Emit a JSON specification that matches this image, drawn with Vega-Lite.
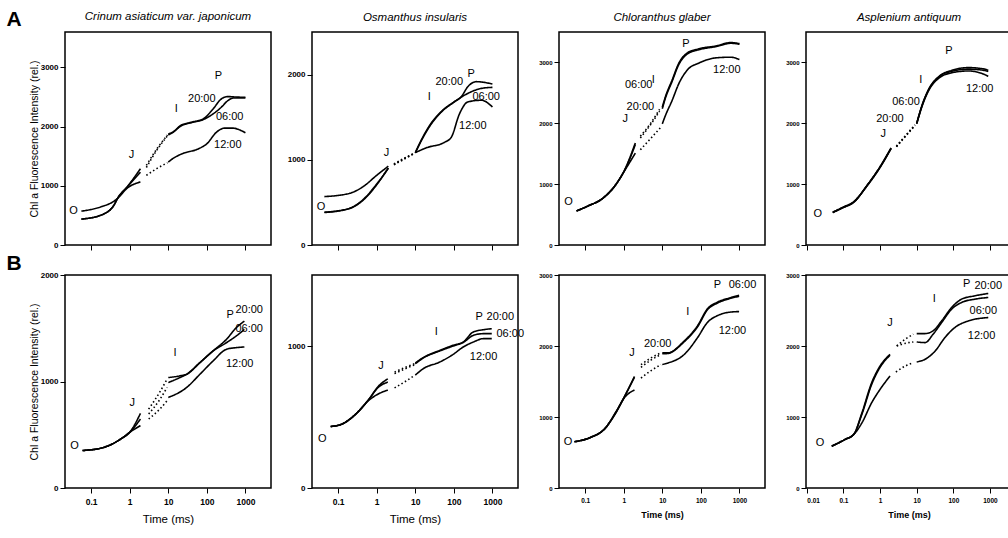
{
"$schema": "https://vega.github.io/schema/vega-lite/v6.json",
"padding": {"left": 5, "top": 8, "right": 0, "bottom": 0},
"background": "white",
"columns": 4,
"bounds": "flush",
"spacing": {"row": 30, "column": 41},
"config": {
 "font": "Liberation Sans",
 "view": {"stroke": "black", "strokeWidth": 1.5},
 "axis": {"grid": false, "domain": false, "tickColor": "black", "tickSize": 5, "tickWidth": 1, "labelColor": "black", "labelFontSize": 8, "labelFontWeight": "bold", "labelPadding": 2, "titleColor": "black", "titleFontWeight": "normal", "titleFontSize": 10.5},
 "title": {"fontSize": 11.5, "fontStyle": "italic", "fontWeight": "normal", "color": "black", "offset": 9},
 "text": {"color": "black", "fill": "black"}
},
"datasets": {
"letters": [{"p":"A1","label":"A","t":0.001,"v":3800},{"p":"B1","label":"B","t":0.001,"v":2100}],
"labels": [
{"p":"A1","label":"O","t":0.035,"v":572},{"p":"A1","label":"J","t":1.12,"v":1515},{"p":"A1","label":"I","t":16,"v":2300},{"p":"A1","label":"P","t":200,"v":2850},{"p":"A1","label":"20:00","t":74,"v":2468},{"p":"A1","label":"06:00","t":390,"v":2160},{"p":"A1","label":"12:00","t":350,"v":1694},
{"p":"A2","label":"O","t":0.036,"v":449},{"p":"A2","label":"J","t":1.8,"v":1084},{"p":"A2","label":"I","t":23,"v":1739},{"p":"A2","label":"P","t":280,"v":2009},{"p":"A2","label":"20:00","t":76,"v":1917},{"p":"A2","label":"06:00","t":690,"v":1739},{"p":"A2","label":"12:00","t":310,"v":1401},
{"p":"A3","label":"O","t":0.037,"v":699},{"p":"A3","label":"J","t":1.1,"v":2068},{"p":"A3","label":"20:00","t":2.7,"v":2264},{"p":"A3","label":"06:00","t":2.45,"v":2627},{"p":"A3","label":"I","t":5.8,"v":2711},{"p":"A3","label":"P","t":41,"v":3298},{"p":"A3","label":"12:00","t":470,"v":2868},
{"p":"A4","label":"O","t":0.02,"v":504},{"p":"A4","label":"J","t":1.23,"v":1820},{"p":"A4","label":"20:00","t":1.86,"v":2072},{"p":"A4","label":"06:00","t":5.1,"v":2352},{"p":"A4","label":"I","t":13,"v":2716},{"p":"A4","label":"P","t":76,"v":3192},{"p":"A4","label":"12:00","t":525,"v":2565},
{"p":"B1","label":"O","t":0.037,"v":399},{"p":"B1","label":"J","t":1.17,"v":794},{"p":"B1","label":"I","t":15,"v":1271},{"p":"B1","label":"P","t":400,"v":1629},{"p":"B1","label":"20:00","t":1250,"v":1676},{"p":"B1","label":"06:00","t":1250,"v":1489},{"p":"B1","label":"12:00","t":710,"v":1162},
{"p":"B2","label":"O","t":0.039,"v":346},{"p":"B2","label":"J","t":1.3,"v":856},{"p":"B2","label":"I","t":35,"v":1099},{"p":"B2","label":"P","t":450,"v":1205},{"p":"B2","label":"20:00","t":1600,"v":1205},{"p":"B2","label":"06:00","t":2900,"v":1087},{"p":"B2","label":"12:00","t":590,"v":922},
{"p":"B3","label":"O","t":0.036,"v":643},{"p":"B3","label":"J","t":1.64,"v":1904},{"p":"B3","label":"20:00","t":7.6,"v":2023},{"p":"B3","label":"I","t":46,"v":2475},{"p":"B3","label":"P","t":270,"v":2856},{"p":"B3","label":"06:00","t":1200,"v":2856},{"p":"B3","label":"12:00","t":660,"v":2213},
{"p":"B4","label":"O","t":0.023,"v":636},{"p":"B4","label":"J","t":1.87,"v":2330},{"p":"B4","label":"I","t":30,"v":2669},{"p":"B4","label":"P","t":230,"v":2872},{"p":"B4","label":"20:00","t":900,"v":2848},{"p":"B4","label":"06:00","t":660,"v":2495},{"p":"B4","label":"12:00","t":590,"v":2142}
],
"curves": [
{"p":"A1","s":"20:00","g":"a","t":0.056,"v":438},{"p":"A1","s":"20:00","g":"a","t":0.18,"v":505},{"p":"A1","s":"20:00","g":"a","t":0.39,"v":673},{"p":"A1","s":"20:00","g":"a","t":0.48,"v":785},{"p":"A1","s":"20:00","g":"a","t":0.86,"v":982},{"p":"A1","s":"20:00","g":"a","t":1.9,"v":1290},
{"p":"A1","s":"20:00","g":"b","t":2.7,"v":1346},{"p":"A1","s":"20:00","g":"b","t":5,"v":1620},{"p":"A1","s":"20:00","g":"b","t":9.5,"v":1860},
{"p":"A1","s":"20:00","g":"c","t":10,"v":1879},{"p":"A1","s":"20:00","g":"c","t":13,"v":1907},{"p":"A1","s":"20:00","g":"c","t":21,"v":2020},{"p":"A1","s":"20:00","g":"c","t":41,"v":2076},{"p":"A1","s":"20:00","g":"c","t":81,"v":2132},{"p":"A1","s":"20:00","g":"c","t":145,"v":2300},{"p":"A1","s":"20:00","g":"c","t":236,"v":2468},{"p":"A1","s":"20:00","g":"c","t":350,"v":2508},{"p":"A1","s":"20:00","g":"c","t":600,"v":2500},{"p":"A1","s":"20:00","g":"c","t":1000,"v":2496},
{"p":"A1","s":"06:00","g":"a","t":0.056,"v":438},{"p":"A1","s":"06:00","g":"a","t":0.18,"v":505},{"p":"A1","s":"06:00","g":"a","t":0.39,"v":673},{"p":"A1","s":"06:00","g":"a","t":0.48,"v":785},{"p":"A1","s":"06:00","g":"a","t":0.86,"v":982},{"p":"A1","s":"06:00","g":"a","t":1.9,"v":1230},
{"p":"A1","s":"06:00","g":"b","t":2.7,"v":1310},{"p":"A1","s":"06:00","g":"b","t":5,"v":1600},{"p":"A1","s":"06:00","g":"b","t":9.5,"v":1845},
{"p":"A1","s":"06:00","g":"c","t":10,"v":1860},{"p":"A1","s":"06:00","g":"c","t":13,"v":1900},{"p":"A1","s":"06:00","g":"c","t":21,"v":2010},{"p":"A1","s":"06:00","g":"c","t":41,"v":2070},{"p":"A1","s":"06:00","g":"c","t":81,"v":2120},{"p":"A1","s":"06:00","g":"c","t":145,"v":2216},{"p":"A1","s":"06:00","g":"c","t":236,"v":2328},{"p":"A1","s":"06:00","g":"c","t":350,"v":2440},{"p":"A1","s":"06:00","g":"c","t":500,"v":2485},{"p":"A1","s":"06:00","g":"c","t":1000,"v":2485},
{"p":"A1","s":"12:00","g":"a","t":0.056,"v":572},{"p":"A1","s":"12:00","g":"a","t":0.18,"v":645},{"p":"A1","s":"12:00","g":"a","t":0.39,"v":740},{"p":"A1","s":"12:00","g":"a","t":0.48,"v":785},{"p":"A1","s":"12:00","g":"a","t":0.86,"v":960},{"p":"A1","s":"12:00","g":"a","t":1.9,"v":1066},
{"p":"A1","s":"12:00","g":"b","t":2.7,"v":1178},{"p":"A1","s":"12:00","g":"b","t":5,"v":1290},{"p":"A1","s":"12:00","g":"b","t":9.5,"v":1390},
{"p":"A1","s":"12:00","g":"c","t":10,"v":1402},{"p":"A1","s":"12:00","g":"c","t":13,"v":1459},{"p":"A1","s":"12:00","g":"c","t":23,"v":1543},{"p":"A1","s":"12:00","g":"c","t":61,"v":1627},{"p":"A1","s":"12:00","g":"c","t":100,"v":1711},{"p":"A1","s":"12:00","g":"c","t":178,"v":1907},{"p":"A1","s":"12:00","g":"c","t":288,"v":1975},{"p":"A1","s":"12:00","g":"c","t":466,"v":1975},{"p":"A1","s":"12:00","g":"c","t":1000,"v":1896},

{"p":"A2","s":"20:00","g":"a","t":0.044,"v":381},{"p":"A2","s":"20:00","g":"a","t":0.2,"v":429},{"p":"A2","s":"20:00","g":"a","t":0.45,"v":528},{"p":"A2","s":"20:00","g":"a","t":1,"v":707},{"p":"A2","s":"20:00","g":"a","t":2,"v":905},
{"p":"A2","s":"20:00","g":"b","t":2.8,"v":945},{"p":"A2","s":"20:00","g":"b","t":5,"v":1010},{"p":"A2","s":"20:00","g":"b","t":9.5,"v":1080},
{"p":"A2","s":"20:00","g":"c","t":10,"v":1084},{"p":"A2","s":"20:00","g":"c","t":14,"v":1223},{"p":"A2","s":"20:00","g":"c","t":25,"v":1421},{"p":"A2","s":"20:00","g":"c","t":51,"v":1580},{"p":"A2","s":"20:00","g":"c","t":100,"v":1679},{"p":"A2","s":"20:00","g":"c","t":155,"v":1739},{"p":"A2","s":"20:00","g":"c","t":230,"v":1858},{"p":"A2","s":"20:00","g":"c","t":380,"v":1917},{"p":"A2","s":"20:00","g":"c","t":1000,"v":1890},
{"p":"A2","s":"06:00","g":"a","t":0.044,"v":385},{"p":"A2","s":"06:00","g":"a","t":0.2,"v":432},{"p":"A2","s":"06:00","g":"a","t":0.45,"v":535},{"p":"A2","s":"06:00","g":"a","t":1,"v":715},{"p":"A2","s":"06:00","g":"a","t":2,"v":900},
{"p":"A2","s":"06:00","g":"b","t":2.8,"v":940},{"p":"A2","s":"06:00","g":"b","t":5,"v":1005},{"p":"A2","s":"06:00","g":"b","t":9.5,"v":1075},
{"p":"A2","s":"06:00","g":"c","t":10,"v":1080},{"p":"A2","s":"06:00","g":"c","t":14,"v":1215},{"p":"A2","s":"06:00","g":"c","t":25,"v":1410},{"p":"A2","s":"06:00","g":"c","t":51,"v":1575},{"p":"A2","s":"06:00","g":"c","t":100,"v":1675},{"p":"A2","s":"06:00","g":"c","t":155,"v":1735},{"p":"A2","s":"06:00","g":"c","t":230,"v":1779},{"p":"A2","s":"06:00","g":"c","t":515,"v":1838},{"p":"A2","s":"06:00","g":"c","t":1000,"v":1850},
{"p":"A2","s":"12:00","g":"a","t":0.044,"v":568},{"p":"A2","s":"12:00","g":"a","t":0.2,"v":607},{"p":"A2","s":"12:00","g":"a","t":0.45,"v":687},{"p":"A2","s":"12:00","g":"a","t":1,"v":818},{"p":"A2","s":"12:00","g":"a","t":2,"v":925},
{"p":"A2","s":"12:00","g":"b","t":2.8,"v":950},{"p":"A2","s":"12:00","g":"b","t":5,"v":1015},{"p":"A2","s":"12:00","g":"b","t":9.5,"v":1075},
{"p":"A2","s":"12:00","g":"c","t":10,"v":1084},{"p":"A2","s":"12:00","g":"c","t":20,"v":1143},{"p":"A2","s":"12:00","g":"c","t":56,"v":1203},{"p":"A2","s":"12:00","g":"c","t":85,"v":1262},{"p":"A2","s":"12:00","g":"c","t":140,"v":1540},{"p":"A2","s":"12:00","g":"c","t":230,"v":1679},{"p":"A2","s":"12:00","g":"c","t":515,"v":1699},{"p":"A2","s":"12:00","g":"c","t":1000,"v":1620},

{"p":"A3","s":"20:00","g":"a","t":0.06,"v":559},{"p":"A3","s":"20:00","g":"a","t":0.12,"v":643},{"p":"A3","s":"20:00","g":"a","t":0.27,"v":755},{"p":"A3","s":"20:00","g":"a","t":0.6,"v":978},{"p":"A3","s":"20:00","g":"a","t":1.1,"v":1258},{"p":"A3","s":"20:00","g":"a","t":2,"v":1677},
{"p":"A3","s":"20:00","g":"b","t":2.7,"v":1789},{"p":"A3","s":"20:00","g":"b","t":5,"v":2000},{"p":"A3","s":"20:00","g":"b","t":8.5,"v":2230},
{"p":"A3","s":"20:00","g":"c","t":10,"v":2264},{"p":"A3","s":"20:00","g":"c","t":12,"v":2432},{"p":"A3","s":"20:00","g":"c","t":18,"v":2711},{"p":"A3","s":"20:00","g":"c","t":27,"v":2991},{"p":"A3","s":"20:00","g":"c","t":45,"v":3158},{"p":"A3","s":"20:00","g":"c","t":90,"v":3225},{"p":"A3","s":"20:00","g":"c","t":245,"v":3270},{"p":"A3","s":"20:00","g":"c","t":600,"v":3326},{"p":"A3","s":"20:00","g":"c","t":1000,"v":3309},
{"p":"A3","s":"06:00","g":"a","t":0.06,"v":559},{"p":"A3","s":"06:00","g":"a","t":0.12,"v":643},{"p":"A3","s":"06:00","g":"a","t":0.27,"v":755},{"p":"A3","s":"06:00","g":"a","t":0.6,"v":978},{"p":"A3","s":"06:00","g":"a","t":1.1,"v":1250},{"p":"A3","s":"06:00","g":"a","t":2,"v":1650},
{"p":"A3","s":"06:00","g":"b","t":2.7,"v":1760},{"p":"A3","s":"06:00","g":"b","t":5,"v":1980},{"p":"A3","s":"06:00","g":"b","t":8.5,"v":2200},
{"p":"A3","s":"06:00","g":"c","t":10,"v":2240},{"p":"A3","s":"06:00","g":"c","t":12,"v":2410},{"p":"A3","s":"06:00","g":"c","t":18,"v":2690},{"p":"A3","s":"06:00","g":"c","t":27,"v":2970},{"p":"A3","s":"06:00","g":"c","t":45,"v":3140},{"p":"A3","s":"06:00","g":"c","t":90,"v":3210},{"p":"A3","s":"06:00","g":"c","t":245,"v":3260},{"p":"A3","s":"06:00","g":"c","t":600,"v":3315},{"p":"A3","s":"06:00","g":"c","t":1000,"v":3300},
{"p":"A3","s":"12:00","g":"a","t":0.06,"v":559},{"p":"A3","s":"12:00","g":"a","t":0.12,"v":643},{"p":"A3","s":"12:00","g":"a","t":0.27,"v":755},{"p":"A3","s":"12:00","g":"a","t":0.6,"v":978},{"p":"A3","s":"12:00","g":"a","t":1.1,"v":1240},{"p":"A3","s":"12:00","g":"a","t":2,"v":1509},
{"p":"A3","s":"12:00","g":"b","t":2.7,"v":1565},{"p":"A3","s":"12:00","g":"b","t":5,"v":1750},{"p":"A3","s":"12:00","g":"b","t":9,"v":1929},
{"p":"A3","s":"12:00","g":"c","t":10,"v":1990},{"p":"A3","s":"12:00","g":"c","t":12,"v":2124},{"p":"A3","s":"12:00","g":"c","t":18,"v":2376},{"p":"A3","s":"12:00","g":"c","t":27,"v":2655},{"p":"A3","s":"12:00","g":"c","t":45,"v":2879},{"p":"A3","s":"12:00","g":"c","t":90,"v":2991},{"p":"A3","s":"12:00","g":"c","t":245,"v":3075},{"p":"A3","s":"12:00","g":"c","t":600,"v":3086},{"p":"A3","s":"12:00","g":"c","t":1000,"v":3047},

{"p":"A4","s":"20:00","g":"a","t":0.051,"v":532},{"p":"A4","s":"20:00","g":"a","t":0.1,"v":616},{"p":"A4","s":"20:00","g":"a","t":0.19,"v":700},{"p":"A4","s":"20:00","g":"a","t":0.44,"v":980},{"p":"A4","s":"20:00","g":"a","t":1,"v":1288},{"p":"A4","s":"20:00","g":"a","t":2,"v":1596},
{"p":"A4","s":"20:00","g":"b","t":2.8,"v":1624},{"p":"A4","s":"20:00","g":"b","t":5,"v":1800},{"p":"A4","s":"20:00","g":"b","t":9,"v":1975},
{"p":"A4","s":"20:00","g":"c","t":10,"v":2000},{"p":"A4","s":"20:00","g":"c","t":14,"v":2296},{"p":"A4","s":"20:00","g":"c","t":22,"v":2576},{"p":"A4","s":"20:00","g":"c","t":41,"v":2772},{"p":"A4","s":"20:00","g":"c","t":91,"v":2870},{"p":"A4","s":"20:00","g":"c","t":260,"v":2915},{"p":"A4","s":"20:00","g":"c","t":720,"v":2890},{"p":"A4","s":"20:00","g":"c","t":900,"v":2870},
{"p":"A4","s":"06:00","g":"a","t":0.051,"v":535},{"p":"A4","s":"06:00","g":"a","t":0.1,"v":620},{"p":"A4","s":"06:00","g":"a","t":0.19,"v":705},{"p":"A4","s":"06:00","g":"a","t":0.44,"v":975},{"p":"A4","s":"06:00","g":"a","t":1,"v":1280},{"p":"A4","s":"06:00","g":"a","t":2,"v":1590},
{"p":"A4","s":"06:00","g":"b","t":2.8,"v":1620},{"p":"A4","s":"06:00","g":"b","t":5,"v":1795},{"p":"A4","s":"06:00","g":"b","t":9,"v":1970},
{"p":"A4","s":"06:00","g":"c","t":10,"v":1995},{"p":"A4","s":"06:00","g":"c","t":14,"v":2290},{"p":"A4","s":"06:00","g":"c","t":22,"v":2570},{"p":"A4","s":"06:00","g":"c","t":41,"v":2765},{"p":"A4","s":"06:00","g":"c","t":91,"v":2856},{"p":"A4","s":"06:00","g":"c","t":260,"v":2890},{"p":"A4","s":"06:00","g":"c","t":720,"v":2867},{"p":"A4","s":"06:00","g":"c","t":900,"v":2850},
{"p":"A4","s":"12:00","g":"a","t":0.051,"v":540},{"p":"A4","s":"12:00","g":"a","t":0.1,"v":625},{"p":"A4","s":"12:00","g":"a","t":0.19,"v":710},{"p":"A4","s":"12:00","g":"a","t":0.44,"v":970},{"p":"A4","s":"12:00","g":"a","t":1,"v":1275},{"p":"A4","s":"12:00","g":"a","t":2,"v":1585},
{"p":"A4","s":"12:00","g":"b","t":2.8,"v":1615},{"p":"A4","s":"12:00","g":"b","t":5,"v":1790},{"p":"A4","s":"12:00","g":"b","t":9,"v":1965},
{"p":"A4","s":"12:00","g":"c","t":10,"v":1990},{"p":"A4","s":"12:00","g":"c","t":14,"v":2280},{"p":"A4","s":"12:00","g":"c","t":22,"v":2555},{"p":"A4","s":"12:00","g":"c","t":41,"v":2745},{"p":"A4","s":"12:00","g":"c","t":91,"v":2830},{"p":"A4","s":"12:00","g":"c","t":260,"v":2860},{"p":"A4","s":"12:00","g":"c","t":720,"v":2800},{"p":"A4","s":"12:00","g":"c","t":900,"v":2772},

{"p":"B1","s":"20:00","g":"a","t":0.06,"v":352},{"p":"B1","s":"20:00","g":"a","t":0.22,"v":383},{"p":"B1","s":"20:00","g":"a","t":0.59,"v":461},{"p":"B1","s":"20:00","g":"a","t":1,"v":523},{"p":"B1","s":"20:00","g":"a","t":1.9,"v":701},
{"p":"B1","s":"20:00","g":"b","t":3.1,"v":741},{"p":"B1","s":"20:00","g":"b","t":6,"v":900},{"p":"B1","s":"20:00","g":"b","t":9.3,"v":1022},
{"p":"B1","s":"20:00","g":"c","t":10,"v":1037},{"p":"B1","s":"20:00","g":"c","t":20,"v":1053},{"p":"B1","s":"20:00","g":"c","t":30,"v":1068},{"p":"B1","s":"20:00","g":"c","t":66,"v":1177},{"p":"B1","s":"20:00","g":"c","t":145,"v":1287},{"p":"B1","s":"20:00","g":"c","t":320,"v":1395},{"p":"B1","s":"20:00","g":"c","t":575,"v":1504},{"p":"B1","s":"20:00","g":"c","t":940,"v":1567},
{"p":"B1","s":"06:00","g":"a","t":0.06,"v":352},{"p":"B1","s":"06:00","g":"a","t":0.22,"v":383},{"p":"B1","s":"06:00","g":"a","t":0.59,"v":461},{"p":"B1","s":"06:00","g":"a","t":1,"v":523},{"p":"B1","s":"06:00","g":"a","t":1.9,"v":648},
{"p":"B1","s":"06:00","g":"b","t":3.1,"v":695},{"p":"B1","s":"06:00","g":"b","t":6,"v":830},{"p":"B1","s":"06:00","g":"b","t":9.3,"v":944},
{"p":"B1","s":"06:00","g":"c","t":10,"v":990},{"p":"B1","s":"06:00","g":"c","t":20,"v":1037},{"p":"B1","s":"06:00","g":"c","t":30,"v":1068},{"p":"B1","s":"06:00","g":"c","t":66,"v":1177},{"p":"B1","s":"06:00","g":"c","t":145,"v":1287},{"p":"B1","s":"06:00","g":"c","t":320,"v":1364},{"p":"B1","s":"06:00","g":"c","t":575,"v":1427},{"p":"B1","s":"06:00","g":"c","t":940,"v":1489},
{"p":"B1","s":"12:00","g":"a","t":0.06,"v":352},{"p":"B1","s":"12:00","g":"a","t":0.22,"v":383},{"p":"B1","s":"12:00","g":"a","t":0.59,"v":461},{"p":"B1","s":"12:00","g":"a","t":1,"v":523},{"p":"B1","s":"12:00","g":"a","t":1.9,"v":586},
{"p":"B1","s":"12:00","g":"b","t":3.1,"v":648},{"p":"B1","s":"12:00","g":"b","t":6,"v":740},{"p":"B1","s":"12:00","g":"b","t":9.3,"v":819},
{"p":"B1","s":"12:00","g":"c","t":10,"v":850},{"p":"B1","s":"12:00","g":"c","t":30,"v":944},{"p":"B1","s":"12:00","g":"c","t":66,"v":1068},{"p":"B1","s":"12:00","g":"c","t":145,"v":1193},{"p":"B1","s":"12:00","g":"c","t":320,"v":1302},{"p":"B1","s":"12:00","g":"c","t":575,"v":1318},{"p":"B1","s":"12:00","g":"c","t":940,"v":1324},

{"p":"B2","s":"20:00","g":"a","t":0.064,"v":433},{"p":"B2","s":"20:00","g":"a","t":0.13,"v":452},{"p":"B2","s":"20:00","g":"a","t":0.29,"v":522},{"p":"B2","s":"20:00","g":"a","t":0.64,"v":628},{"p":"B2","s":"20:00","g":"a","t":1.06,"v":711},{"p":"B2","s":"20:00","g":"a","t":1.94,"v":769},
{"p":"B2","s":"20:00","g":"b","t":2.9,"v":816},{"p":"B2","s":"20:00","g":"b","t":5.5,"v":850},{"p":"B2","s":"20:00","g":"b","t":9.6,"v":875},
{"p":"B2","s":"20:00","g":"c","t":10,"v":880},{"p":"B2","s":"20:00","g":"c","t":16,"v":918},{"p":"B2","s":"20:00","g":"c","t":43,"v":969},{"p":"B2","s":"20:00","g":"c","t":96,"v":1005},{"p":"B2","s":"20:00","g":"c","t":175,"v":1028},{"p":"B2","s":"20:00","g":"c","t":320,"v":1099},{"p":"B2","s":"20:00","g":"c","t":590,"v":1115},{"p":"B2","s":"20:00","g":"c","t":960,"v":1122},
{"p":"B2","s":"06:00","g":"a","t":0.064,"v":433},{"p":"B2","s":"06:00","g":"a","t":0.13,"v":452},{"p":"B2","s":"06:00","g":"a","t":0.29,"v":522},{"p":"B2","s":"06:00","g":"a","t":0.64,"v":628},{"p":"B2","s":"06:00","g":"a","t":1.06,"v":705},{"p":"B2","s":"06:00","g":"a","t":1.94,"v":746},
{"p":"B2","s":"06:00","g":"b","t":2.9,"v":805},{"p":"B2","s":"06:00","g":"b","t":5.5,"v":840},{"p":"B2","s":"06:00","g":"b","t":9.6,"v":868},
{"p":"B2","s":"06:00","g":"c","t":10,"v":875},{"p":"B2","s":"06:00","g":"c","t":16,"v":915},{"p":"B2","s":"06:00","g":"c","t":43,"v":965},{"p":"B2","s":"06:00","g":"c","t":96,"v":1000},{"p":"B2","s":"06:00","g":"c","t":175,"v":1025},{"p":"B2","s":"06:00","g":"c","t":320,"v":1075},{"p":"B2","s":"06:00","g":"c","t":590,"v":1087},{"p":"B2","s":"06:00","g":"c","t":960,"v":1087},
{"p":"B2","s":"12:00","g":"a","t":0.064,"v":433},{"p":"B2","s":"12:00","g":"a","t":0.13,"v":452},{"p":"B2","s":"12:00","g":"a","t":0.29,"v":522},{"p":"B2","s":"12:00","g":"a","t":0.64,"v":620},{"p":"B2","s":"12:00","g":"a","t":1.06,"v":660},{"p":"B2","s":"12:00","g":"a","t":1.94,"v":690},
{"p":"B2","s":"12:00","g":"b","t":2.9,"v":705},{"p":"B2","s":"12:00","g":"b","t":5.5,"v":750},{"p":"B2","s":"12:00","g":"b","t":9.6,"v":793},
{"p":"B2","s":"12:00","g":"c","t":10,"v":795},{"p":"B2","s":"12:00","g":"c","t":16,"v":840},{"p":"B2","s":"12:00","g":"c","t":43,"v":887},{"p":"B2","s":"12:00","g":"c","t":96,"v":941},{"p":"B2","s":"12:00","g":"c","t":175,"v":993},{"p":"B2","s":"12:00","g":"c","t":320,"v":1028},{"p":"B2","s":"12:00","g":"c","t":590,"v":1052},{"p":"B2","s":"12:00","g":"c","t":960,"v":1052},

{"p":"B3","s":"20:00","g":"a","t":0.053,"v":652},{"p":"B3","s":"20:00","g":"a","t":0.14,"v":714},{"p":"B3","s":"20:00","g":"a","t":0.32,"v":833},{"p":"B3","s":"20:00","g":"a","t":0.63,"v":1071},{"p":"B3","s":"20:00","g":"a","t":1.04,"v":1285},{"p":"B3","s":"20:00","g":"a","t":1.9,"v":1571},
{"p":"B3","s":"20:00","g":"b","t":2.8,"v":1737},{"p":"B3","s":"20:00","g":"b","t":5,"v":1830},{"p":"B3","s":"20:00","g":"b","t":9.2,"v":1904},
{"p":"B3","s":"20:00","g":"c","t":10,"v":1904},{"p":"B3","s":"20:00","g":"c","t":14,"v":1904},{"p":"B3","s":"20:00","g":"c","t":37,"v":2071},{"p":"B3","s":"20:00","g":"c","t":82,"v":2285},{"p":"B3","s":"20:00","g":"c","t":148,"v":2523},{"p":"B3","s":"20:00","g":"c","t":270,"v":2618},{"p":"B3","s":"20:00","g":"c","t":540,"v":2675},{"p":"B3","s":"20:00","g":"c","t":980,"v":2713},
{"p":"B3","s":"06:00","g":"a","t":0.053,"v":652},{"p":"B3","s":"06:00","g":"a","t":0.14,"v":714},{"p":"B3","s":"06:00","g":"a","t":0.32,"v":833},{"p":"B3","s":"06:00","g":"a","t":0.63,"v":1071},{"p":"B3","s":"06:00","g":"a","t":1.04,"v":1285},{"p":"B3","s":"06:00","g":"a","t":1.9,"v":1560},
{"p":"B3","s":"06:00","g":"b","t":2.8,"v":1700},{"p":"B3","s":"06:00","g":"b","t":5,"v":1800},{"p":"B3","s":"06:00","g":"b","t":9.2,"v":1880},
{"p":"B3","s":"06:00","g":"c","t":10,"v":1890},{"p":"B3","s":"06:00","g":"c","t":14,"v":1895},{"p":"B3","s":"06:00","g":"c","t":37,"v":2060},{"p":"B3","s":"06:00","g":"c","t":82,"v":2270},{"p":"B3","s":"06:00","g":"c","t":148,"v":2510},{"p":"B3","s":"06:00","g":"c","t":270,"v":2605},{"p":"B3","s":"06:00","g":"c","t":540,"v":2665},{"p":"B3","s":"06:00","g":"c","t":980,"v":2700},
{"p":"B3","s":"12:00","g":"a","t":0.053,"v":652},{"p":"B3","s":"12:00","g":"a","t":0.14,"v":714},{"p":"B3","s":"12:00","g":"a","t":0.32,"v":833},{"p":"B3","s":"12:00","g":"a","t":0.63,"v":1060},{"p":"B3","s":"12:00","g":"a","t":1.04,"v":1270},{"p":"B3","s":"12:00","g":"a","t":1.9,"v":1380},
{"p":"B3","s":"12:00","g":"b","t":2.8,"v":1547},{"p":"B3","s":"12:00","g":"b","t":5,"v":1650},{"p":"B3","s":"12:00","g":"b","t":9.2,"v":1737},
{"p":"B3","s":"12:00","g":"c","t":10,"v":1740},{"p":"B3","s":"12:00","g":"c","t":14,"v":1761},{"p":"B3","s":"12:00","g":"c","t":37,"v":1880},{"p":"B3","s":"12:00","g":"c","t":82,"v":2118},{"p":"B3","s":"12:00","g":"c","t":148,"v":2332},{"p":"B3","s":"12:00","g":"c","t":270,"v":2428},{"p":"B3","s":"12:00","g":"c","t":540,"v":2475},{"p":"B3","s":"12:00","g":"c","t":980,"v":2485},

{"p":"B4","s":"20:00","g":"a","t":0.048,"v":589},{"p":"B4","s":"20:00","g":"a","t":0.11,"v":683},{"p":"B4","s":"20:00","g":"a","t":0.19,"v":753},{"p":"B4","s":"20:00","g":"a","t":0.32,"v":1059},{"p":"B4","s":"20:00","g":"a","t":0.59,"v":1483},{"p":"B4","s":"20:00","g":"a","t":1,"v":1718},{"p":"B4","s":"20:00","g":"a","t":1.87,"v":1883},
{"p":"B4","s":"20:00","g":"b","t":2.85,"v":2001},{"p":"B4","s":"20:00","g":"b","t":5,"v":2100},{"p":"B4","s":"20:00","g":"b","t":8.1,"v":2166},
{"p":"B4","s":"20:00","g":"c","t":10,"v":2175},{"p":"B4","s":"20:00","g":"c","t":17,"v":2175},{"p":"B4","s":"20:00","g":"c","t":28,"v":2213},{"p":"B4","s":"20:00","g":"c","t":48,"v":2354},{"p":"B4","s":"20:00","g":"c","t":90,"v":2542},{"p":"B4","s":"20:00","g":"c","t":168,"v":2660},{"p":"B4","s":"20:00","g":"c","t":390,"v":2707},{"p":"B4","s":"20:00","g":"c","t":900,"v":2740},
{"p":"B4","s":"06:00","g":"a","t":0.048,"v":589},{"p":"B4","s":"06:00","g":"a","t":0.11,"v":683},{"p":"B4","s":"06:00","g":"a","t":0.19,"v":753},{"p":"B4","s":"06:00","g":"a","t":0.32,"v":1040},{"p":"B4","s":"06:00","g":"a","t":0.59,"v":1460},{"p":"B4","s":"06:00","g":"a","t":1,"v":1700},{"p":"B4","s":"06:00","g":"a","t":1.87,"v":1870},
{"p":"B4","s":"06:00","g":"b","t":2.85,"v":2001},{"p":"B4","s":"06:00","g":"b","t":5,"v":2040},{"p":"B4","s":"06:00","g":"b","t":8.1,"v":2057},
{"p":"B4","s":"06:00","g":"c","t":10,"v":2057},{"p":"B4","s":"06:00","g":"c","t":17,"v":2048},{"p":"B4","s":"06:00","g":"c","t":28,"v":2166},{"p":"B4","s":"06:00","g":"c","t":48,"v":2330},{"p":"B4","s":"06:00","g":"c","t":90,"v":2519},{"p":"B4","s":"06:00","g":"c","t":168,"v":2613},{"p":"B4","s":"06:00","g":"c","t":390,"v":2660},{"p":"B4","s":"06:00","g":"c","t":900,"v":2683},
{"p":"B4","s":"12:00","g":"a","t":0.048,"v":589},{"p":"B4","s":"12:00","g":"a","t":0.11,"v":683},{"p":"B4","s":"12:00","g":"a","t":0.19,"v":753},{"p":"B4","s":"12:00","g":"a","t":0.32,"v":918},{"p":"B4","s":"12:00","g":"a","t":0.59,"v":1201},{"p":"B4","s":"12:00","g":"a","t":1,"v":1389},{"p":"B4","s":"12:00","g":"a","t":1.87,"v":1577},
{"p":"B4","s":"12:00","g":"b","t":2.7,"v":1634},{"p":"B4","s":"12:00","g":"b","t":5,"v":1720},{"p":"B4","s":"12:00","g":"b","t":8.1,"v":1765},
{"p":"B4","s":"12:00","g":"c","t":10,"v":1775},{"p":"B4","s":"12:00","g":"c","t":17,"v":1813},{"p":"B4","s":"12:00","g":"c","t":32,"v":1930},{"p":"B4","s":"12:00","g":"c","t":59,"v":2119},{"p":"B4","s":"12:00","g":"c","t":110,"v":2260},{"p":"B4","s":"12:00","g":"c","t":260,"v":2354},{"p":"B4","s":"12:00","g":"c","t":900,"v":2401}
]
},
"concat": [
{"width": 206, "height": 213, "title": {"text": "Crinum asiaticum var. japonicum", "offset": -13},
 "encoding": {"x": {"field": "t", "type": "quantitative", "scale": {"type": "log", "domain": [0.021, 4600], "nice": false}, "axis": {"values": [0.1, 1, 10, 100, 1000], "labels": false, "title": null}},
  "y": {"field": "v", "type": "quantitative", "scale": {"domain": [0, 3600], "nice": false}, "axis": {"values": [0, 1000, 2000, 3000], "format": "d", "title": "Chl a Fluorescence Intensity  (rel.)", "titlePadding": 1}}},
 "layer": [
  {"data": {"name": "curves"}, "transform": [{"filter": "datum.p === 'A1'"}], "mark": {"type": "line", "color": "black", "strokeWidth": 1.6, "interpolate": "monotone"}, "encoding": {"detail": {"field": "s"}, "strokeDash": {"field": "g", "type": "nominal", "scale": {"domain": ["a", "b", "c"], "range": [[1, 0], [1.5, 2.5], [1, 0]]}, "legend": null}}},
  {"data": {"name": "labels"}, "transform": [{"filter": "datum.p === 'A1'"}], "mark": {"type": "text", "fontSize": 11, "fill": "black"}, "encoding": {"text": {"field": "label"}}},
  {"data": {"name": "letters"}, "transform": [{"filter": "datum.p === 'A1'"}], "mark": {"type": "text", "fontSize": 21, "fontWeight": "bold", "fill": "black"}, "encoding": {"text": {"field": "label"}}}
 ]},
{"width": 206, "height": 213, "title": "Osmanthus insularis",
 "encoding": {"x": {"field": "t", "type": "quantitative", "scale": {"type": "log", "domain": [0.021, 4600], "nice": false}, "axis": {"values": [0.1, 1, 10, 100, 1000], "labels": false, "title": null}},
  "y": {"field": "v", "type": "quantitative", "scale": {"domain": [0, 2500], "nice": false}, "axis": {"values": [0, 1000, 2000], "format": "d", "title": null}}},
 "layer": [
  {"data": {"name": "curves"}, "transform": [{"filter": "datum.p === 'A2'"}], "mark": {"type": "line", "color": "black", "strokeWidth": 1.6, "interpolate": "monotone"}, "encoding": {"detail": {"field": "s"}, "strokeDash": {"field": "g", "type": "nominal", "scale": {"domain": ["a", "b", "c"], "range": [[1, 0], [1.5, 2.5], [1, 0]]}, "legend": null}}},
  {"data": {"name": "labels"}, "transform": [{"filter": "datum.p === 'A2'"}], "mark": {"type": "text", "fontSize": 11, "fill": "black"}, "encoding": {"text": {"field": "label"}}}
 ]},
{"width": 206, "height": 213, "title": "Chloranthus glaber",
 "encoding": {"x": {"field": "t", "type": "quantitative", "scale": {"type": "log", "domain": [0.021, 4600], "nice": false}, "axis": {"values": [0.1, 1, 10, 100, 1000], "labels": false, "title": null}},
  "y": {"field": "v", "type": "quantitative", "scale": {"domain": [0, 3500], "nice": false}, "axis": {"values": [0, 1000, 2000, 3000], "format": "d", "title": null, "labelFontSize": 6}}},
 "layer": [
  {"data": {"name": "curves"}, "transform": [{"filter": "datum.p === 'A3'"}], "mark": {"type": "line", "color": "black", "strokeWidth": 1.6, "interpolate": "monotone"}, "encoding": {"detail": {"field": "s"}, "strokeDash": {"field": "g", "type": "nominal", "scale": {"domain": ["a", "b", "c"], "range": [[1, 0], [1.5, 2.5], [1, 0]]}, "legend": null}}},
  {"data": {"name": "labels"}, "transform": [{"filter": "datum.p === 'A3'"}], "mark": {"type": "text", "fontSize": 11, "fill": "black"}, "encoding": {"text": {"field": "label"}}}
 ]},
{"width": 206, "height": 213, "title": "Asplenium antiquum",
 "encoding": {"x": {"field": "t", "type": "quantitative", "scale": {"type": "log", "domain": [0.0095, 4000], "nice": false}, "axis": {"values": [0.01, 0.1, 1, 10, 100, 1000], "labels": false, "title": null}},
  "y": {"field": "v", "type": "quantitative", "scale": {"domain": [0, 3500], "nice": false}, "axis": {"values": [0, 1000, 2000, 3000], "format": "d", "title": null, "labelFontSize": 6}}},
 "layer": [
  {"data": {"name": "curves"}, "transform": [{"filter": "datum.p === 'A4'"}], "mark": {"type": "line", "color": "black", "strokeWidth": 1.6, "interpolate": "monotone"}, "encoding": {"detail": {"field": "s"}, "strokeDash": {"field": "g", "type": "nominal", "scale": {"domain": ["a", "b", "c"], "range": [[1, 0], [1.5, 2.5], [1, 0]]}, "legend": null}}},
  {"data": {"name": "labels"}, "transform": [{"filter": "datum.p === 'A4'"}], "mark": {"type": "text", "fontSize": 11, "fill": "black"}, "encoding": {"text": {"field": "label"}}}
 ]},
{"width": 206, "height": 213,
 "encoding": {"x": {"field": "t", "type": "quantitative", "scale": {"type": "log", "domain": [0.021, 4600], "nice": false}, "axis": {"values": [0.1, 1, 10, 100, 1000], "format": "~g", "title": "Time (ms)", "labelFontSize": 8.5, "labelPadding": 4, "titleFontSize": 11.5, "titlePadding": 8}},
  "y": {"field": "v", "type": "quantitative", "scale": {"domain": [0, 2000], "nice": false}, "axis": {"values": [0, 1000, 2000], "format": "d", "title": "Chl a Fluorescence Intensity  (rel.)", "titlePadding": 1}}},
 "layer": [
  {"data": {"name": "curves"}, "transform": [{"filter": "datum.p === 'B1'"}], "mark": {"type": "line", "color": "black", "strokeWidth": 1.6, "interpolate": "monotone"}, "encoding": {"detail": {"field": "s"}, "strokeDash": {"field": "g", "type": "nominal", "scale": {"domain": ["a", "b", "c"], "range": [[1, 0], [1.5, 2.5], [1, 0]]}, "legend": null}}},
  {"data": {"name": "labels"}, "transform": [{"filter": "datum.p === 'B1'"}], "mark": {"type": "text", "fontSize": 11, "fill": "black"}, "encoding": {"text": {"field": "label"}}},
  {"data": {"name": "letters"}, "transform": [{"filter": "datum.p === 'B1'"}], "mark": {"type": "text", "fontSize": 21, "fontWeight": "bold", "fill": "black"}, "encoding": {"text": {"field": "label"}}}
 ]},
{"width": 206, "height": 213,
 "encoding": {"x": {"field": "t", "type": "quantitative", "scale": {"type": "log", "domain": [0.021, 4600], "nice": false}, "axis": {"values": [0.1, 1, 10, 100, 1000], "format": "~g", "title": "Time (ms)", "labelFontSize": 8.5, "labelPadding": 4, "titleFontSize": 11.5, "titlePadding": 8}},
  "y": {"field": "v", "type": "quantitative", "scale": {"domain": [0, 1500], "nice": false}, "axis": {"values": [0, 1000], "format": "d", "title": null}}},
 "layer": [
  {"data": {"name": "curves"}, "transform": [{"filter": "datum.p === 'B2'"}], "mark": {"type": "line", "color": "black", "strokeWidth": 1.6, "interpolate": "monotone"}, "encoding": {"detail": {"field": "s"}, "strokeDash": {"field": "g", "type": "nominal", "scale": {"domain": ["a", "b", "c"], "range": [[1, 0], [1.5, 2.5], [1, 0]]}, "legend": null}}},
  {"data": {"name": "labels"}, "transform": [{"filter": "datum.p === 'B2'"}], "mark": {"type": "text", "fontSize": 11, "fill": "black"}, "encoding": {"text": {"field": "label"}}}
 ]},
{"width": 206, "height": 213,
 "encoding": {"x": {"field": "t", "type": "quantitative", "scale": {"type": "log", "domain": [0.021, 4600], "nice": false}, "axis": {"values": [0.1, 1, 10, 100, 1000], "format": "~g", "title": "Time (ms)", "labelFontSize": 6.5, "labelPadding": 4, "titleFontSize": 9, "titleFontWeight": "bold", "titlePadding": 7}},
  "y": {"field": "v", "type": "quantitative", "scale": {"domain": [0, 3000], "nice": false}, "axis": {"values": [0, 1000, 2000, 3000], "format": "d", "title": null, "labelFontSize": 6}}},
 "layer": [
  {"data": {"name": "curves"}, "transform": [{"filter": "datum.p === 'B3'"}], "mark": {"type": "line", "color": "black", "strokeWidth": 1.6, "interpolate": "monotone"}, "encoding": {"detail": {"field": "s"}, "strokeDash": {"field": "g", "type": "nominal", "scale": {"domain": ["a", "b", "c"], "range": [[1, 0], [1.5, 2.5], [1, 0]]}, "legend": null}}},
  {"data": {"name": "labels"}, "transform": [{"filter": "datum.p === 'B3'"}], "mark": {"type": "text", "fontSize": 11, "fill": "black"}, "encoding": {"text": {"field": "label"}}}
 ]},
{"width": 206, "height": 213,
 "encoding": {"x": {"field": "t", "type": "quantitative", "scale": {"type": "log", "domain": [0.0095, 4000], "nice": false}, "axis": {"values": [0.01, 0.1, 1, 10, 100, 1000], "format": "~g", "title": "Time (ms)", "labelFontSize": 6.5, "labelPadding": 4, "titleFontSize": 9, "titleFontWeight": "bold", "titlePadding": 7}},
  "y": {"field": "v", "type": "quantitative", "scale": {"domain": [0, 3000], "nice": false}, "axis": {"values": [0, 1000, 2000, 3000], "format": "d", "title": null, "labelFontSize": 6}}},
 "layer": [
  {"data": {"name": "curves"}, "transform": [{"filter": "datum.p === 'B4'"}], "mark": {"type": "line", "color": "black", "strokeWidth": 1.6, "interpolate": "monotone"}, "encoding": {"detail": {"field": "s"}, "strokeDash": {"field": "g", "type": "nominal", "scale": {"domain": ["a", "b", "c"], "range": [[1, 0], [1.5, 2.5], [1, 0]]}, "legend": null}}},
  {"data": {"name": "labels"}, "transform": [{"filter": "datum.p === 'B4'"}], "mark": {"type": "text", "fontSize": 11, "fill": "black"}, "encoding": {"text": {"field": "label"}}}
 ]}
]
}
